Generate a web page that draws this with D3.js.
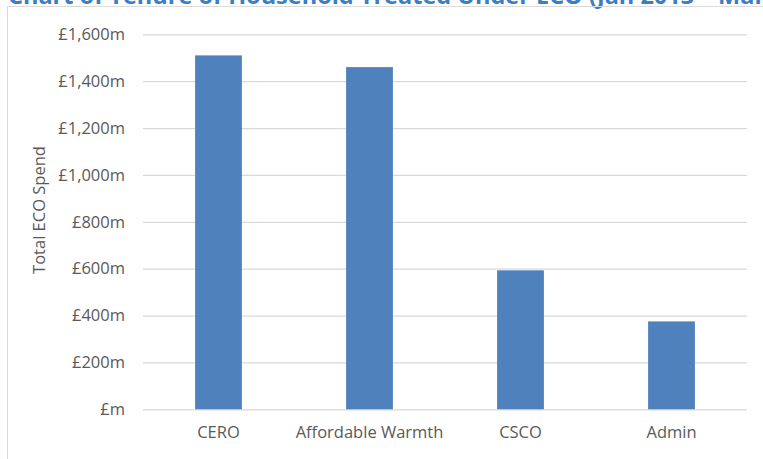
<!DOCTYPE html>
<html>
<head>
<meta charset="utf-8">
<script src="https://cdn.jsdelivr.net/npm/d3@7"></script>
<style>
  html, body { margin: 0; padding: 0; background: #fff; overflow: hidden; }
  svg { display: block; }
</style>
</head>
<body>
<svg id="chart" width="763" height="459"></svg>
<script>
const categories = ["CERO", "Affordable Warmth", "CSCO", "Admin"];
const spendValues = [1510, 1460, 593, 375];
const tickValues = [0, 200, 400, 600, 800, 1000, 1200, 1400, 1600];
const tickLabels = ["£m", "£200m", "£400m", "£600m", "£800m", "£1,000m", "£1,200m", "£1,400m", "£1,600m"];
const titleText = "Chart of Tenure of Household Treated Under ECO (Jan 2013 – Mar 2015)";
const yAxisTitle = "Total ECO Spend";

const svg = d3.select("#chart");
const font = "'Open Sans', 'Noto Sans', sans-serif";
const textColor = "#595959";

const plot = { left: 143, right: 747, top: 34.3, bottom: 409.3 };

// Title (clipped at top in the reference)
svg.append("text")
  .attr("x", 8).attr("y", 4)
  .attr("font-family", font).attr("font-weight", "bold")
  .attr("font-size", 23.5).attr("fill", "#3C7DC4")
  .text(titleText);

// Frame borders
svg.append("line").attr("x1", 7.5).attr("x2", 763).attr("y1", 6.5).attr("y2", 6.5)
  .attr("stroke", "#D9D9D9").attr("stroke-width", 1);
svg.append("line").attr("x1", 7.5).attr("x2", 7.5).attr("y1", 6.5).attr("y2", 459)
  .attr("stroke", "#D9D9D9").attr("stroke-width", 1);

const x = d3.scaleBand().domain(categories)
  .range([plot.left, plot.right]).paddingInner(0.69).paddingOuter(0.345);
const y = d3.scaleLinear().domain([0, 1600]).range([plot.bottom, plot.top]);

// Gridlines via axis
const yAxis = d3.axisLeft(y).tickValues(tickValues)
  .tickSize(-(plot.right - plot.left)).tickPadding(18)
  .tickFormat((d, i) => tickLabels[i]);
const gy = svg.append("g").attr("transform", `translate(${plot.left},0)`).call(yAxis);
gy.select(".domain").remove();
gy.selectAll(".tick line").attr("stroke", "#D9D9D9").attr("stroke-width", 1.3);
gy.selectAll(".tick text").attr("font-family", font).attr("font-size", 16.5)
  .attr("fill", textColor);

// Bars
svg.append("g").selectAll("rect").data(categories).join("rect")
  .attr("x", d => x(d))
  .attr("width", x.bandwidth())
  .attr("y", (d, i) => y(spendValues[i]))
  .attr("height", (d, i) => y(0) - y(spendValues[i]))
  .attr("fill", "#4F81BD");

// X axis labels
const xAxis = d3.axisBottom(x).tickSize(0).tickPadding(17);
const gx = svg.append("g").attr("transform", `translate(0,${plot.bottom})`).call(xAxis);
gx.select(".domain").remove();
gx.selectAll(".tick text").attr("font-family", font).attr("font-size", 16.5)
  .attr("fill", textColor);

// Y axis title
svg.append("text")
  .attr("transform", "translate(45,210) rotate(-90)")
  .attr("text-anchor", "middle")
  .attr("font-family", font).attr("font-size", 16.5)
  .attr("fill", textColor)
  .text(yAxisTitle);
</script>
</body>
</html>
